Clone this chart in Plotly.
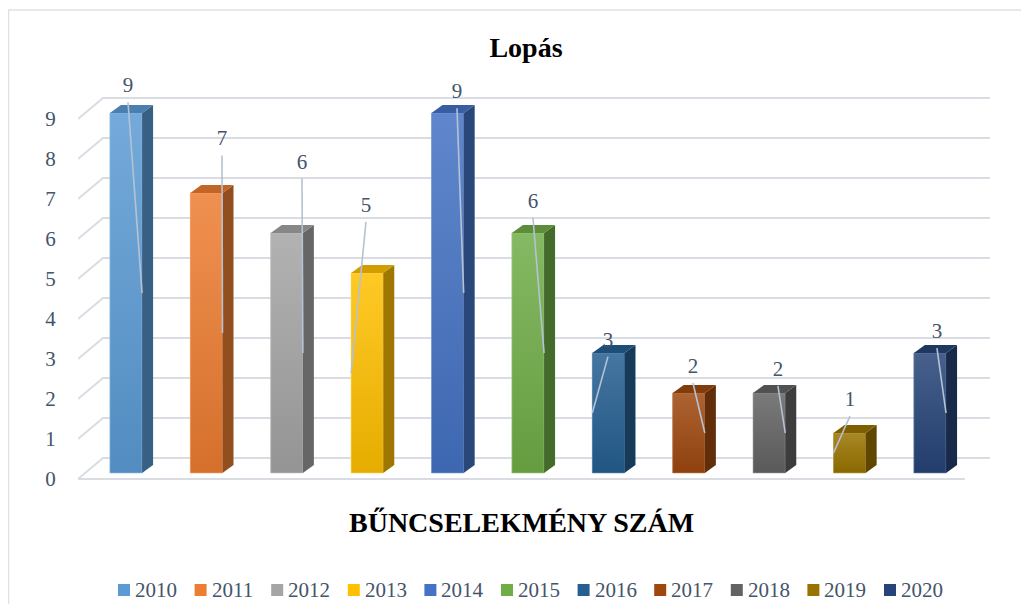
import plotly.graph_objects as go

# ---------------- data ----------------
years = ["2010", "2011", "2012", "2013", "2014", "2015", "2016", "2017", "2018", "2019", "2020"]
counts = [9, 7, 6, 5, 9, 6, 3, 2, 2, 1, 3]
base_colors = ["#5B9BD5", "#ED7D31", "#A5A5A5", "#FFC000", "#4472C4", "#70AD47",
               "#255E91", "#9E480E", "#636363", "#997300", "#264478"]
y_ticks = [0, 1, 2, 3, 4, 5, 6, 7, 8, 9]

# ---------------- label placement (styling, offsets in axis units) ----------------
label_dx = [0.025, 0.194, 0.189, -0.015, 0.117, 0.062, -0.005, 0.052, 0.109, 0.005, 0.087]
label_y_above = [0.65, 1.32, 1.74, 1.66, 0.50, 0.76, 0.29, 0.63, 0.56, 0.80, 0.50]
leader_side = [1, 1, 1, -1, 1, 1, -1, 1, 1, -1, 1]

# ---------------- geometry (styling) ----------------
BAR_W = 0.40
BASE = 0.15           # bars stand a little behind the front floor edge
SX, SY = 0.137, 0.20  # bar depth
WX, WY = 0.311, 0.525  # wall depth
X_LEFT, X_FRONT_R, X_BACK_R, X_MAX = -0.597, 10.435, 10.746, 10.896
Y_MIN, Y_MAX = -0.15, 10.1
TEXT_COL = "#44546A"
FONT = "'Liberation Serif', 'Times New Roman', Times, serif"

W, H = 1013, 596
ML, MR, MB = 70, 19, 119
PX_PER_Y = 40.0
MT = H - MB - round(PX_PER_Y * (Y_MAX - Y_MIN))
PLOT_W, PLOT_H = W - ML - MR, H - MT - MB


def mix(c, t, a):
    c = c.lstrip("#"); t = t.lstrip("#")
    r = [int(c[i:i + 2], 16) for i in (0, 2, 4)]
    s = [int(t[i:i + 2], 16) for i in (0, 2, 4)]
    return "#" + "".join(f"{round(r[k] + (s[k] - r[k]) * a):02X}" for k in range(3))


def px_to_paper(px, py):
    return (px - ML) / PLOT_W, (H - MB - py) / PLOT_H


fig = go.Figure()

# front faces as bars
for i, (yr, v, c) in enumerate(zip(years, counts, base_colors)):
    fig.add_trace(go.Bar(x=[i], y=[v], base=BASE, width=BAR_W, name=yr,
                         marker=dict(color=c, line=dict(width=0)),
                         showlegend=False, hoverinfo="skip"))

# gradient overlay, side and top faces
for i, (v, c) in enumerate(zip(counts, base_colors)):
    xl, xr = i - BAR_W / 2, i + BAR_W / 2
    b, t = BASE, BASE + v
    fig.add_trace(go.Scatter(
        x=[xl, xr, xr, xl, xl], y=[b, b, t, t, b], mode="lines", fill="toself",
        line=dict(width=0.6, color=mix(c, "#FFFFFF", 0.35)),
        fillgradient=dict(type="vertical",
                          colorscale=[[0, mix(c, "#000000", 0.10)], [1, mix(c, "#FFFFFF", 0.15)]]),
        showlegend=False, hoverinfo="skip"))
    fig.add_trace(go.Scatter(
        x=[xr, xr + SX, xr + SX, xr, xr], y=[b, b + SY, t + SY, t, b], mode="lines", fill="toself",
        line=dict(width=0), fillcolor=mix(c, "#000000", 0.38),
        showlegend=False, hoverinfo="skip"))
    fig.add_trace(go.Scatter(
        x=[xl, xl + SX, xr + SX, xr, xl], y=[t, t + SY, t + SY, t, t], mode="lines", fill="toself",
        line=dict(width=0), fillcolor=mix(c, "#000000", 0.18),
        showlegend=False, hoverinfo="skip"))

# leader lines and data labels
lx, ly, tx, ty, tt = [], [], [], [], []
for i, v in enumerate(counts):
    top_y = BASE + v + label_y_above[i]
    px = i + label_dx[i]
    lx += [px, i + leader_side[i] * BAR_W / 2, None]
    ly += [top_y - 0.38, BASE + v / 2, None]
    tx.append(px); ty.append(top_y); tt.append(str(v))
fig.add_trace(go.Scatter(x=lx, y=ly, mode="lines", line=dict(color="#B4C2D3", width=1.6),
                         showlegend=False, hoverinfo="skip"))
fig.add_trace(go.Scatter(x=tx, y=ty, mode="text", text=tt,
                         textfont=dict(family=FONT, size=21, color=TEXT_COL),
                         showlegend=False, hoverinfo="skip"))

# 3D wall gridlines
shapes = []
GRID = "#D9DDE3"
for v in y_ticks:
    shapes.append(dict(type="path", xref="x", yref="y", layer="below",
                       path=f"M{X_LEFT},{v} L{X_LEFT + WX},{v + WY} L{X_BACK_R},{v + WY}",
                       line=dict(color=GRID, width=2)))
shapes.append(dict(type="line", xref="x", yref="y", layer="below",
                   x0=X_LEFT, y0=0, x1=X_FRONT_R, y1=0, line=dict(color=GRID, width=2)))
# chart border (left and top)
bx, by = px_to_paper(0.5, 2)
_, bbot = px_to_paper(0, H + 20)
shapes.append(dict(type="path", xref="paper", yref="paper", layer="below",
                   path=f"M{bx},{bbot} L{bx},{by} L1.05,{by}",
                   line=dict(color="#DDE1E6", width=1.5)))

# legend (manual: square swatch + label)
annotations = []
LEG_X0, LEG_STEP, LEG_Y, SW = 110, 76.6, 582, 12
for k, (yr, c) in enumerate(zip(years, base_colors)):
    sx = LEG_X0 + LEG_STEP * k
    x0, y0 = px_to_paper(sx, LEG_Y + SW / 2)
    x1, y1 = px_to_paper(sx + SW, LEG_Y - SW / 2)
    shapes.append(dict(type="rect", xref="paper", yref="paper", x0=x0, y0=y0, x1=x1, y1=y1,
                       line=dict(width=0), fillcolor=c))
    ax, ay = px_to_paper(sx + SW + 3, LEG_Y)
    annotations.append(dict(text=yr, xref="paper", yref="paper", x=ax, y=ay, xanchor="left",
                            yanchor="middle", showarrow=False,
                            font=dict(family=FONT, size=21, color=TEXT_COL)))

tx_, ty_ = px_to_paper(513, 514)
annotations.append(dict(text="<b>BŰNCSELEKMÉNY SZÁM</b>", xref="paper", yref="paper",
                        x=tx_, y=ty_, xanchor="center", yanchor="middle", showarrow=False,
                        font=dict(family=FONT, size=28, color="#000000")))
ttx, _ = px_to_paper(518, 0)

fig.update_layout(
    width=W, height=H,
    margin=dict(l=ML, r=MR, t=MT, b=MB),
    paper_bgcolor="white", plot_bgcolor="white",
    barmode="overlay",
    showlegend=False,
    shapes=shapes,
    annotations=annotations,
    font=dict(family=FONT, color=TEXT_COL),
    title=dict(text="<b>Lopás</b>", x=ttx, xref="paper", y=1 - 39 / H, yanchor="middle",
               xanchor="center", font=dict(family=FONT, size=28, color="#000000")),
    xaxis=dict(range=[X_LEFT, X_MAX], showgrid=False, zeroline=False, showticklabels=False,
               showline=False, fixedrange=True),
    yaxis=dict(range=[Y_MIN, Y_MAX], tickvals=y_ticks, showgrid=False, zeroline=False,
               showline=False, ticks="outside", ticklen=17, tickcolor="rgba(0,0,0,0)",
               tickfont=dict(family=FONT, size=21, color=TEXT_COL), fixedrange=True),
)

fig.write_html("out.html")
